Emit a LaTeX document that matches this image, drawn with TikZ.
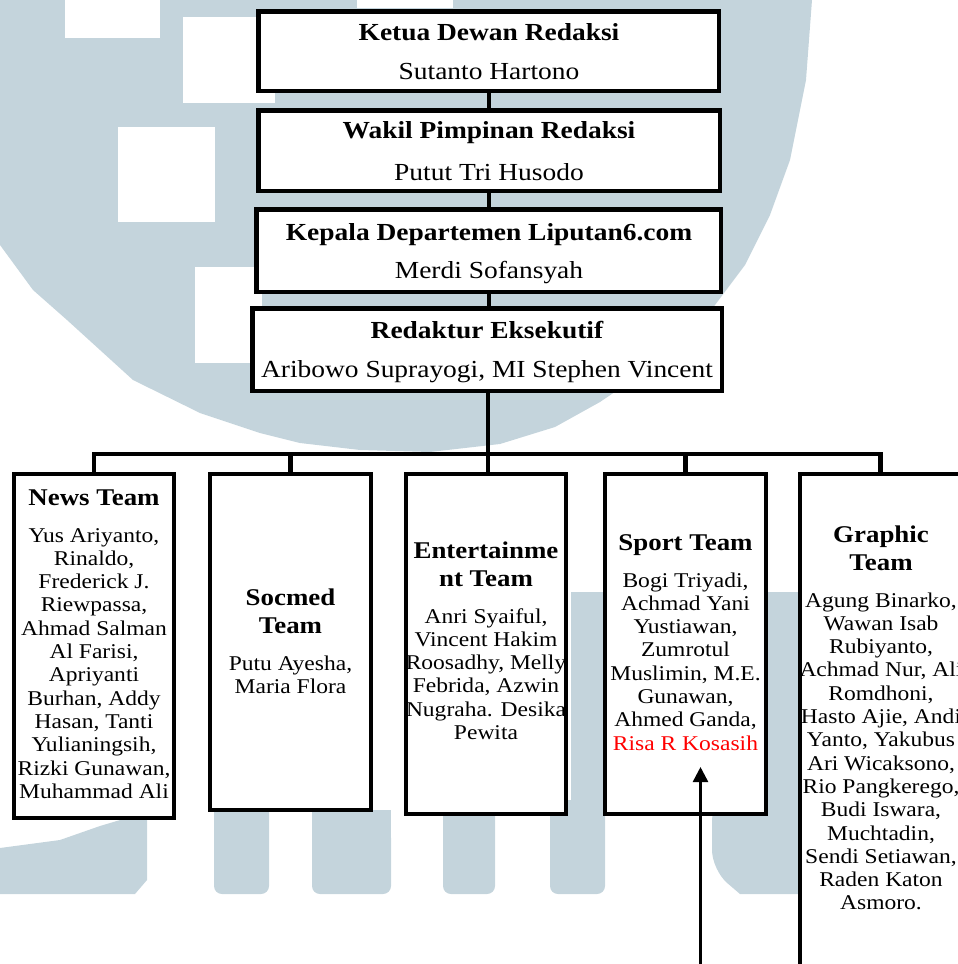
\documentclass[tikz,border=0pt]{standalone}
\usepackage{fontspec}
\setmainfont{Liberation Serif}[FakeStretch=1.12]
\usetikzlibrary{arrows.meta}
\definecolor{wm}{RGB}{196,212,220}
\newcommand{\txtblock}[1]{\begin{tabular}[t]{@{}c@{}}#1\end{tabular}}
\begin{document}
\begin{tikzpicture}[x=1pt,y=-1pt,line join=miter,
  topbox/.style={draw,line width=4.5pt,fill=white,inner sep=0pt,rectangle},
  teambox/.style={draw,line width=4pt,fill=white,inner sep=0pt,rectangle},
  conn/.style={line width=3.5pt},
  busline/.style={line width=4.5pt},
  ttl/.style={anchor=base,inner sep=0pt,font=\fontsize{24.5}{28}\selectfont\bfseries},
  nm/.style={anchor=base,inner sep=0pt,font=\fontsize{24.5}{28}\selectfont},
  thead/.style={anchor=base,inner sep=0pt,font=\fontsize{24}{28.5}\selectfont\bfseries},
  tbody/.style={anchor=base,inner sep=0pt,font=\fontsize{21}{23.3}\selectfont},
  wmark/.style={fill=wm,draw=none}]
\useasboundingbox (0,0) rectangle (958,964);
\clip (0,0) rectangle (958,964);
% watermark
\fill[wmark] (0,0) -- (812,0) -- (806,80) -- (790,160) -- (770,215) -- (745,265) -- (715,305)
  -- (680,340) -- (640,375) -- (600,402) -- (555,427) -- (500,444) -- (430,452) -- (360,450)
  -- (300,443) -- (260,433) -- (200,413) -- (133,380) -- (67,320) -- (33,290) -- (0,245) -- cycle;
\fill[white] (65,0) rectangle (160,38);
\fill[white] (183,17) rectangle (275,103);
\fill[white] (118,127) rectangle (215,222);
\fill[white] (195,267) rectangle (262,363);
\fill[white] (357,0) rectangle (453,8);
\fill[wmark] (571,592) rectangle (800,816);
\fill[wmark,rounded corners=8pt] (550,800) rectangle (605,894);
\fill[wmark] (712,800) -- (800,800) -- (800,894) -- (740,894) [rounded corners=20pt] -- (712,870) -- cycle;
\fill[wmark,rounded corners=8pt] (214,800) rectangle (269,894);
\fill[wmark] (312,810) rectangle (391,860);
\fill[wmark,rounded corners=8pt] (312,830) rectangle (391,894);
\fill[wmark,rounded corners=8pt] (443,800) rectangle (495,894);
\fill[wmark] (0,848) -- (60,840) -- (100,826) -- (147,812) -- (147,880) -- (135,894) -- (0,894) -- cycle;
% top boxes
\node[topbox,minimum width=460.5pt,minimum height=79.5pt] (b1) at (488.5,51) {};
\node[topbox,minimum width=461.5pt,minimum height=80.5pt] (b2) at (489,150.5) {};
\node[topbox,minimum width=464.5pt,minimum height=82.5pt] (b3) at (488.5,250.5) {};
\node[topbox,minimum width=469.5pt,minimum height=82.5pt] (b4) at (487,349.5) {};
\node[ttl] (t1) at (489,40) {Ketua Dewan Redaksi};
\node[nm] (n1) at (489,79) {Sutanto Hartono};
\node[ttl] (t2) at (489,138) {Wakil Pimpinan Redaksi};
\node[nm] (n2) at (489,180) {Putut Tri Husodo};
\node[ttl] (t3) at (489,240) {Kepala Departemen Liputan6.com};
\node[nm] (n3) at (489,278) {Merdi Sofansyah};
\node[ttl] (t4) at (487,338) {Redaktur Eksekutif};
\node[nm] (n4) at (487,377) {Aribowo Suprayogi, MI Stephen Vincent};
% team boxes
\node[teambox,minimum width=160pt,minimum height=344pt] (news) at (94,646) {};
\node[teambox,minimum width=161pt,minimum height=336pt] (socmed) at (290.5,642) {};
\node[teambox,minimum width=160pt,minimum height=340pt] (ent) at (486,644) {};
\node[teambox,minimum width=161pt,minimum height=340pt] (sport) at (685.5,644) {};
\node[teambox,minimum width=161pt,minimum height=524pt] (graphic) at (880.5,736) {};
% connectors
\coordinate (busc) at (488,454);
\coordinate (spine) at (489,0);
\draw[conn] (spine |- b1.south) -- (spine |- b2.north);
\draw[conn] (spine |- b2.south) -- (spine |- b3.north);
\draw[conn] (spine |- b3.south) -- (spine |- b4.north);
\draw[busline] (busc |- b4.south) -- (busc);
\draw[busline] (news.north) -- (news.north |- busc) -| (graphic.north);
\draw[busline] (socmed.north) -- (socmed.north |- busc);
\draw[busline] (ent.north -| busc) -- (busc);
\draw[busline] (sport.north) -- (sport.north |- busc);
% team texts
\node[thead] (hnews) at (94,505) {News Team};
\node[tbody] (tnews) at (94,542) {\txtblock{Yus Ariyanto,\\Rinaldo,\\Frederick J.\\Riewpassa,\\Ahmad Salman\\Al Farisi,\\Apriyanti\\Burhan, Addy\\Hasan, Tanti\\Yulianingsih,\\Rizki Gunawan,\\Muhammad Ali}};
\node[thead] (hsoc) at (290.5,605) {\txtblock{Socmed\\Team}};
\node[tbody] (tsoc) at (290.5,670) {\txtblock{Putu Ayesha,\\Maria Flora}};
\node[thead] (hent) at (486,558) {\txtblock{Entertainme\\nt Team}};
\node[tbody] (tent) at (486,623) {\txtblock{Anri Syaiful,\\Vincent Hakim\\Roosadhy, Melly\\Febrida, Azwin\\Nugraha. Desika\\Pewita}};
\node[thead] (hsport) at (685.5,550) {Sport Team};
\node[tbody] (tsport) at (685.5,587) {\txtblock{Bogi Triyadi,\\Achmad Yani\\Yustiawan,\\Zumrotul\\Muslimin, M.E.\\Gunawan,\\Ahmed Ganda,\\\textcolor{red}{Risa R Kosasih}}};
\node[thead] (hgra) at (881,542) {\txtblock{Graphic\\Team}};
\node[tbody] (tgra) at (881,607) {\txtblock{Agung Binarko,\\Wawan Isab\\Rubiyanto,\\Achmad Nur, Ali\\Romdhoni,\\Hasto Ajie, Andi\\Yanto, Yakubus\\Ari Wicaksono,\\Rio Pangkerego,\\Budi Iswara,\\Muchtadin,\\Sendi Setiawan,\\Raden Katon\\Asmoro.}};
% arrow
\coordinate (afoot) at (700.5,975);
\coordinate (atip) at (700.5,767);
\draw[line width=2.5pt,-{Triangle[width=15pt,length=15pt]}] (afoot) -- (atip);
\end{tikzpicture}
\end{document}
